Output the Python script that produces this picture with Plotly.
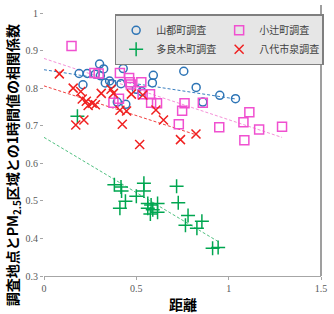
import numpy as np
import plotly.graph_objects as go

# ---- data ----
names = ["山都町調査", "小辻町調査", "多良木町調査", "八代市泉調査"]

blue_x = [0.190, 0.211, 0.234, 0.278, 0.301, 0.323, 0.305, 0.332, 0.355, 0.367, 0.429, 0.417,
          0.397, 0.443, 0.500, 0.530, 0.592, 0.587, 0.757, 0.824, 0.860, 0.952, 1.037]
blue_y = [0.839, 0.809, 0.839, 0.837, 0.864, 0.851, 0.833, 0.814, 0.819, 0.812, 0.852, 0.812,
          0.763, 0.757, 0.797, 0.791, 0.834, 0.814, 0.845, 0.802, 0.763, 0.781, 0.772]

pink_x = [0.149, 0.273, 0.296, 0.411, 0.461, 0.465, 0.470, 0.527, 0.534, 0.574, 0.580, 0.612,
          0.376, 0.406, 0.730, 0.748, 0.761, 0.860, 0.949, 1.080, 1.085, 1.112, 1.165, 1.289]
pink_y = [0.912, 0.840, 0.839, 0.840, 0.827, 0.816, 0.810, 0.816, 0.784, 0.784, 0.761, 0.760,
          0.761, 0.772, 0.704, 0.740, 0.760, 0.761, 0.696, 0.709, 0.661, 0.736, 0.690, 0.697]

green_x = [0.381, 0.417, 0.420, 0.541, 0.541, 0.441, 0.411, 0.500, 0.562, 0.580, 0.615, 0.562,
           0.589, 0.615, 0.576, 0.718, 0.727, 0.780, 0.766, 0.828, 0.855, 0.913, 0.943, 0.181]
green_y = [0.543, 0.537, 0.526, 0.547, 0.526, 0.499, 0.480, 0.512, 0.493, 0.489, 0.493, 0.480,
           0.476, 0.470, 0.465, 0.539, 0.495, 0.461, 0.435, 0.427, 0.446, 0.374, 0.376, 0.725]

red_x = [0.083, 0.158, 0.199, 0.207, 0.229, 0.239, 0.261, 0.278, 0.310, 0.363, 0.376, 0.172,
         0.216, 0.411, 0.447, 0.424, 0.473, 0.535, 0.606, 0.647, 0.518, 0.739, 0.823]
red_y = [0.838, 0.800, 0.791, 0.771, 0.765, 0.754, 0.760, 0.756, 0.786, 0.797, 0.786, 0.702,
         0.715, 0.741, 0.739, 0.704, 0.784, 0.782, 0.742, 0.715, 0.650, 0.663, 0.678]

# linear trend lines: (intercept, slope)
trend_intercept = [0.849, 0.879, 0.669, 0.806]
trend_slope = [-0.075, -0.163, -0.294, -0.158]

x_ticks = [0, 0.5, 1, 1.5]
x_tick_labels = ["0", "0.5", "1", "1.5"]
y_ticks = [0.3, 0.4, 0.5, 0.6, 0.7, 0.8, 0.9, 1.0]
y_tick_labels = ["0.3", "0.4", "0.5", "0.6", "0.7", "0.8", "0.9", "1"]

# ---- styles ----
colors = ["#2E75B6", "#F050D0", "#00A650", "#F02020"]
trend_colors = ["#3A7FC0", "#F590D8", "#50C080", "#F04040"]
symbols = ["circle-open", "square-open", "cross-thin-open", "x-thin-open"]
sizes = [8, 9, 10, 9]

series = [(blue_x, blue_y), (pink_x, pink_y), (green_x, green_y), (red_x, red_y)]

fig = go.Figure()
for i, (xs, ys) in enumerate(series):
    xe = np.array([0, max(xs)])
    fig.add_trace(go.Scatter(
        x=xe, y=trend_intercept[i] + trend_slope[i] * xe, mode="lines",
        line=dict(color=trend_colors[i], width=1, dash="3px,2px"),
        showlegend=False, hoverinfo="skip"))

for i, (xs, ys) in enumerate(series):
    fig.add_trace(go.Scatter(
        x=xs, y=ys, mode="markers", name=names[i],
        marker=dict(symbol=symbols[i], size=sizes[i], color=colors[i],
                    line=dict(color=colors[i], width=1.5))))

fig.update_layout(
    width=334, height=314,
    margin=dict(l=44, r=8, t=7, b=38),
    paper_bgcolor="white", plot_bgcolor="white",
    font=dict(family="Noto Sans CJK JP", size=10, color="#595959"),
    showlegend=True,
    legend=dict(
        orientation="h", x=0.255, y=0.995, xanchor="left", yanchor="top",
        bgcolor="#E6E6E6", bordercolor="#7F7F7F", borderwidth=1.5,
        entrywidth=58, itemwidth=30,
        font=dict(family="Noto Sans CJK JP", size=10, color="#404040"),
        tracegroupgap=0,
    ),
    xaxis=dict(
        range=[0, 1.5], tickvals=x_ticks, ticktext=x_tick_labels,
        showgrid=False, zeroline=False, showline=True, linecolor="#A6A6A6", linewidth=1,
        ticks="outside", ticklen=3, tickcolor="#A6A6A6",
        tickfont=dict(family="Liberation Serif", size=10, color="#595959"),
    ),
    yaxis=dict(
        range=[0.3, 1.0], tickvals=y_ticks, ticktext=y_tick_labels,
        showgrid=False, zeroline=False, showline=False,
        ticks="outside", ticklen=3, tickcolor="#A6A6A6",
        tickfont=dict(family="Liberation Serif", size=10, color="#595959"),
    ),
    annotations=[
        dict(text="調査地点とPM<sub>2.5</sub>区域との1時間値の相関係数", textangle=-90,
             xref="paper", yref="paper", x=-0.113, y=0.42, xanchor="center", yanchor="middle",
             showarrow=False, font=dict(family="Noto Sans CJK JP", size=14, color="black", weight="bold")),
        dict(text="距離", xref="paper", yref="paper", x=0.5, y=-0.108,
             xanchor="center", yanchor="middle", showarrow=False,
             font=dict(family="Noto Sans CJK JP", size=14, color="black", weight="bold")),
    ],
    shapes=[dict(type="line", xref="paper", yref="paper", x0=1, x1=1, y0=0, y1=1.03,
                 line=dict(color="#7F7F7F", width=1.5))],
)

fig.write_html("out.html")
